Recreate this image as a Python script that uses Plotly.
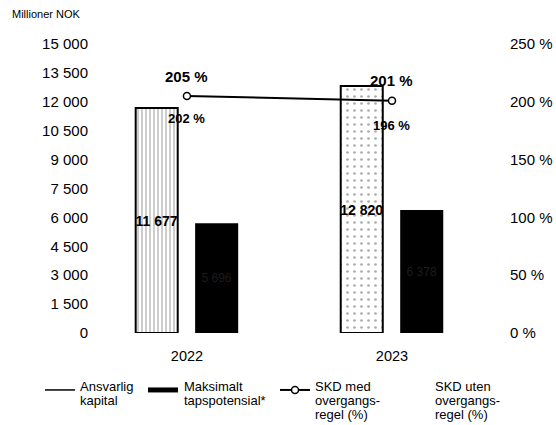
import plotly.graph_objects as go

years = ["2022", "2023"]
ansvarlig_kapital = [11677, 12820]
ansvarlig_labels = ["11 677", "12 820"]
maks_tapspotensial = [5696, 6378]
maks_labels = ["5 696", "6 378"]
skd_med = [205, 201]
skd_uten = [202, 196]
left_ticks = [0, 1500, 3000, 4500, 6000, 7500, 9000, 10500, 12000, 13500, 15000]
right_ticks = [0, 50, 100, 150, 200, 250]
legend_texts = [
    ["Ansvarlig", "kapital"],
    ["Maksimalt", "tapspotensial*"],
    ["SKD med", "overgangs-", "regel (%)"],
    ["SKD uten", "overgangs-", "regel (%)"],
]

xpos = list(range(len(years)))
FONT = "Liberation Sans, Arial, sans-serif"

# plot area in pixels
L, R, T, B, W, H = 92, 50, 44, 92, 556, 425
PW, PH = W - L - R, H - T - B
def px_x(p):
    return (p - L) / PW
def px_y(p):
    return (H - B - p) / PH

fig = go.Figure()

fig.add_trace(go.Bar(
    x=xpos, y=ansvarlig_kapital, width=0.205, offset=-0.25,
    marker=dict(color="white", line=dict(color="black", width=2),
                pattern=dict(shape=["|", "."], fgcolor="#555", bgcolor="white",
                             size=[4, 7], solidity=[0.3, 0.12])),
    text=ansvarlig_labels, textposition="inside", insidetextanchor="middle",
    constraintext="none", textangle=0,
    textfont=dict(family=FONT, size=14, color="black", weight="bold"),
    showlegend=False, name="Ansvarlig kapital", cliponaxis=False))

fig.add_trace(go.Bar(
    x=xpos, y=maks_tapspotensial, width=0.21, offset=0.04,
    marker=dict(color="black", line=dict(color="black", width=0)),
    text=maks_labels, textposition="inside", insidetextanchor="middle",
    constraintext="none", textangle=0,
    textfont=dict(family=FONT, size=12, color="#1c1c1c"),
    showlegend=False, name="Maksimalt tapspotensial*"))

fig.add_trace(go.Scatter(
    x=xpos, y=skd_med, yaxis="y2", mode="lines+markers",
    line=dict(color="black", width=2),
    marker=dict(symbol="circle", size=7, color="white", line=dict(color="black", width=1.5)),
    showlegend=False, cliponaxis=False, name="SKD med overgangsregel (%)"))

fig.add_trace(go.Scatter(
    x=xpos, y=skd_uten, yaxis="y2", mode="markers",
    marker=dict(size=6, color="rgba(0,0,0,0)"),
    showlegend=False, cliponaxis=False, name="SKD uten overgangsregel (%)"))

annotations = []
for xi, v in zip(xpos, skd_med):
    annotations.append(dict(x=xi, y=v, xref="x", yref="y2", text=f"{v} %", showarrow=False,
                            yshift=20, font=dict(family=FONT, size=15, color="black", weight="bold")))
for xi, v in zip(xpos, skd_uten):
    annotations.append(dict(x=xi, y=v, xref="x", yref="y2", text=f"{v} %", showarrow=False,
                            yshift=-19, font=dict(family=FONT, size=13, color="black", weight="bold")))
annotations.append(dict(text="Millioner NOK", xref="paper", yref="paper",
                        x=px_x(10), y=px_y(14), xanchor="left", yanchor="middle",
                        showarrow=False, font=dict(size=11, color="black")))

# legend text (one annotation per line for the tight line spacing)
text_x = [78, 182, 313, 433]
line_y = [386, 400, 414]
for tx, lines in zip(text_x, legend_texts):
    for ly, line in zip(line_y, lines):
        annotations.append(dict(text=line, xref="paper", yref="paper", x=px_x(tx), y=px_y(ly),
                                xanchor="left", yanchor="middle", showarrow=False,
                                font=dict(family=FONT, size=13, color="black")))

# legend symbols
legend_syms = [
    (dict(mode="lines", line=dict(color="black", width=1.5)), "legend", 40),
    (dict(mode="lines", line=dict(color="black", width=5)), "legend2", 143),
    (dict(mode="lines+markers", line=dict(color="black", width=2),
          marker=dict(symbol="circle", size=7, color="white", line=dict(color="black", width=1.5))),
     "legend3", 275),
]
legend_layout = {}
for style, lg, lx in legend_syms:
    fig.add_trace(go.Scatter(x=[None], y=[None], name=" ", legend=lg, **style))
    legend_layout[lg] = dict(orientation="h", x=px_x(lx), y=px_y(375), xanchor="left", yanchor="top",
                             font=dict(size=13, color="black"), bgcolor="rgba(0,0,0,0)")

fig.update_layout(
    width=W, height=H,
    margin=dict(l=L, r=R, t=T, b=B),
    paper_bgcolor="white", plot_bgcolor="white",
    barmode="overlay",
    separators=", ",
    font=dict(family=FONT, size=15, color="black"),
    xaxis=dict(range=[-0.463, 1.556], tickvals=xpos, ticktext=years, showgrid=False,
               zeroline=False, showline=False, ticklabelstandoff=12, automargin=False,
               tickfont=dict(size=14.5)),
    yaxis=dict(range=[0, 15000], tickvals=left_ticks, tickformat=",d", showgrid=False,
               zeroline=False, showline=False, tickfont=dict(size=15), ticklabelstandoff=3,
               automargin=False),
    yaxis2=dict(range=[0, 250], tickvals=right_ticks, ticktext=[f"{t} %" for t in right_ticks],
                overlaying="y", side="right", showgrid=False, zeroline=False, showline=False,
                tickfont=dict(size=15), ticklabelstandoff=3, automargin=False),
    annotations=annotations,
    **legend_layout,
)

fig.write_html("out.html", config={"displayModeBar": False},
               post_script="document.body.style.margin='0';document.body.style.padding='0';")
